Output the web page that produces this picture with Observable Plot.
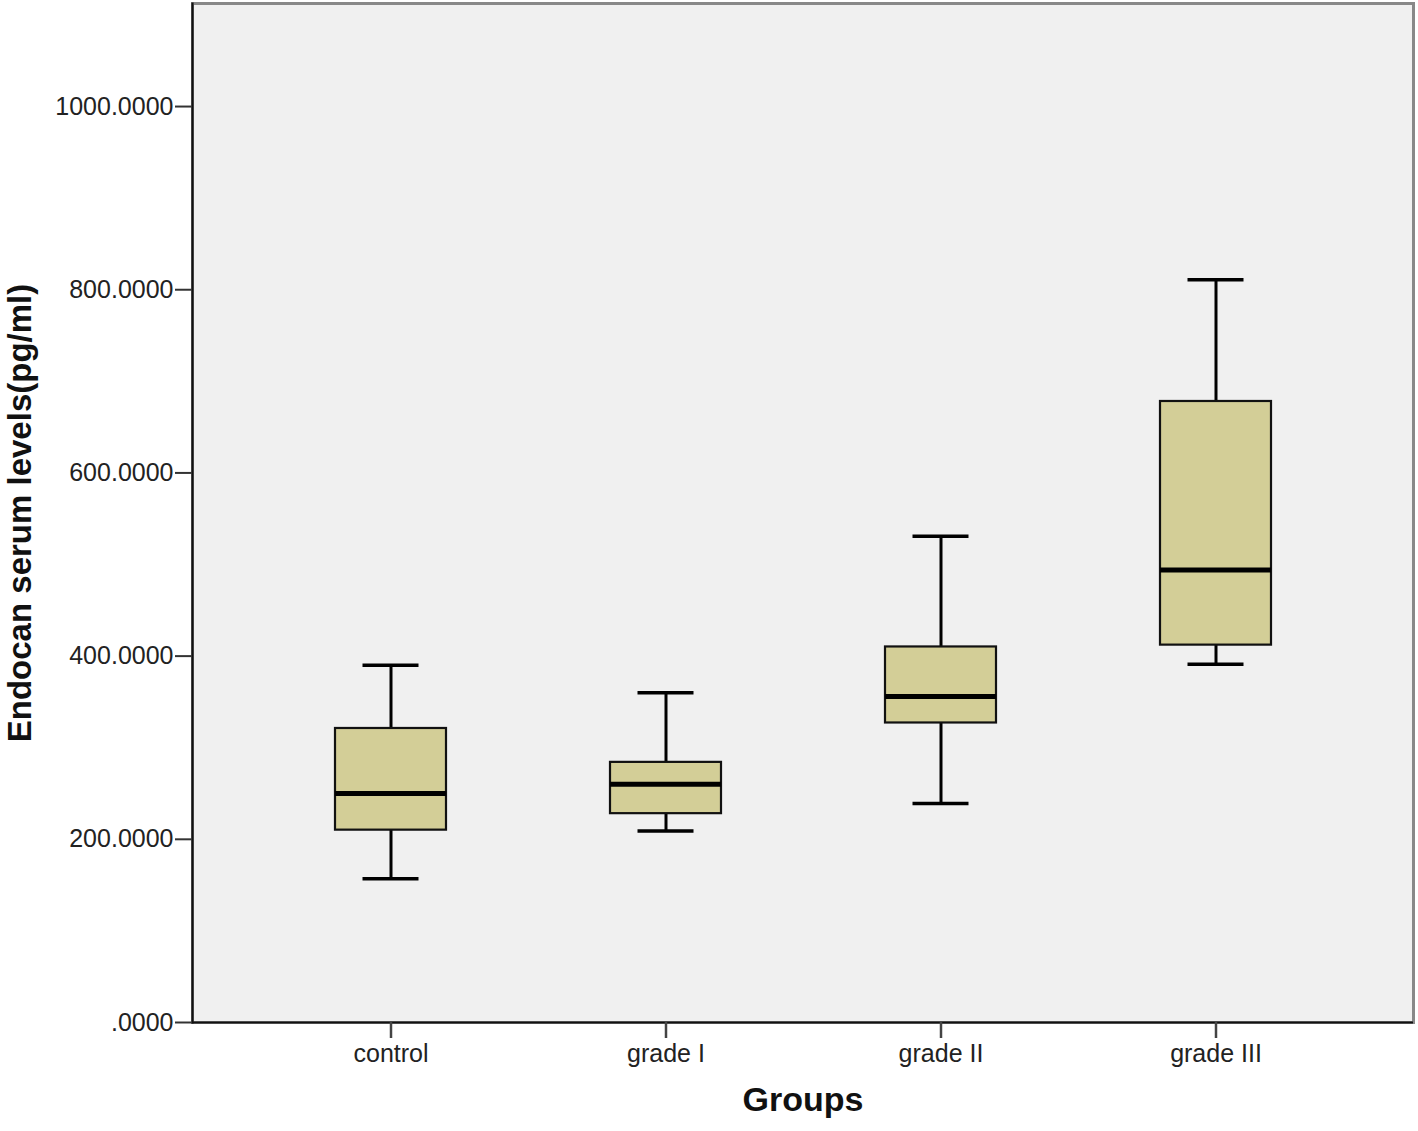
<!DOCTYPE html>
<html>
<head>
<meta charset="utf-8">
<script src="https://cdn.jsdelivr.net/npm/d3@7"></script>
<script src="https://cdn.jsdelivr.net/npm/@observablehq/plot@0.6"></script>
<style>
  body { margin: 0; background: #fff; }
  #chart svg { display: block; }
</style>
</head>
<body>
<div id="chart"></div>
<script>
const groups = ["control", "grade I", "grade II", "grade III"];
const whiskerLow = [157, 209, 239, 391];
const q1 = [210, 228, 327, 412];
const median = [250, 260, 356, 494];
const q3 = [321, 284, 410, 678];
const whiskerHigh = [390, 360, 531, 811];
const yTicks = [0, 200, 400, 600, 800, 1000];
const yTitle = "Endocan serum levels(pg/ml)";
const xTitle = "Groups";

const data = groups.map((g, i) => ({
  group: g, lo: whiskerLow[i], q1: q1[i], med: median[i], q3: q3[i], hi: whiskerHigh[i]
}));

const fmt = d => d === 0 ? ".0000" : d3.format(".4f")(d);
const font = "'Liberation Sans', Arial, sans-serif";

const chart = Plot.plot({
  width: 1418,
  height: 1131,
  marginLeft: 192,
  marginRight: 5,
  marginTop: 3,
  marginBottom: 109,
  style: { fontFamily: font, background: "#fff", color: "#222" },
  x: { type: "band", domain: groups, paddingInner: 0.597, paddingOuter: 0.514, label: null },
  y: { domain: [0, 1112.5], label: null },
  marks: [
    Plot.frame({ fill: "#f0f0f0", stroke: "#888", strokeWidth: 3 }),
    Plot.frame({ anchor: "left", stroke: "#111", strokeWidth: 2.2 }),
    Plot.ruleY([0], { stroke: "#111", strokeWidth: 2 }),
    Plot.axisY({ ticks: yTicks, tickFormat: fmt, tickSize: 17, tickPadding: 2, fontSize: 25, stroke: "#333", strokeWidth: 2, label: null }),
    Plot.axisX({ tickSize: 16, tickPadding: 6, fontSize: 25, stroke: "#444", strokeWidth: 2.5, label: null }),
    Plot.ruleX(data, { x: "group", y1: "lo", y2: "q1", stroke: "#000", strokeWidth: 3 }),
    Plot.ruleX(data, { x: "group", y1: "q3", y2: "hi", stroke: "#000", strokeWidth: 3 }),
    Plot.tickY(data, { x: "group", y: "lo", stroke: "#000", strokeWidth: 3.5, inset: 27.5 }),
    Plot.tickY(data, { x: "group", y: "hi", stroke: "#000", strokeWidth: 3.5, inset: 27.5 }),
    Plot.barY(data, { x: "group", y1: "q1", y2: "q3", fill: "#d3ce97", stroke: "#111", strokeWidth: 2.2 }),
    Plot.tickY(data, { x: "group", y: "med", stroke: "#000", strokeWidth: 5 }),
    Plot.text([yTitle], { frameAnchor: "left", dx: -172, rotate: -90, textAnchor: "middle", fontSize: 33, fontWeight: "bold", fill: "#111" }),
    Plot.text([xTitle], { frameAnchor: "bottom", dy: 88, textAnchor: "middle", fontSize: 34, fontWeight: "bold", fill: "#111" })
  ]
});

document.getElementById("chart").appendChild(chart);
</script>
</body>
</html>
